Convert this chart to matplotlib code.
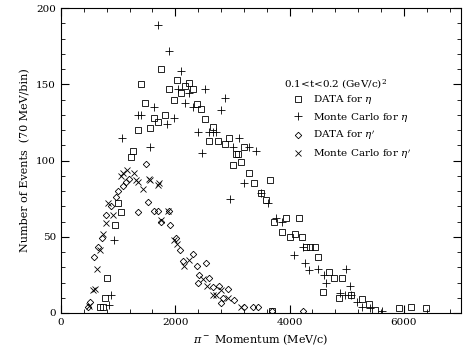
import numpy as np
import matplotlib.pyplot as plt
from matplotlib.ticker import MultipleLocator

plt.rcParams['font.family'] = 'DejaVu Serif'
plt.rcParams['mathtext.fontset'] = 'dejavuserif'

# DATA for eta (MeV/c, events per bin)
eta_data_x = [684, 737, 772, 807, 947, 1000, 1053, 1228, 1263, 1351, 1404, 1474, 1561,
              1631, 1701, 1754, 1824, 1895, 1982, 2035, 2105, 2175, 2245, 2316, 2386,
              2456, 2526, 2596, 2667, 2754, 2877, 2947, 3017, 3070, 3105, 3158, 3210,
              3298, 3386, 3508, 3579, 3666, 3700, 3736, 3859, 3929, 4000, 4087, 4157,
              4210, 4280, 4350, 4438, 4490, 4578, 4684, 4771, 4860, 4912, 5070, 5263,
              5385, 5490, 5911, 6121, 6385]
eta_data_y = [4, 4, 10, 23, 58, 72, 66, 102, 106, 120, 150, 138, 121,
              128, 125, 160, 130, 147, 140, 153, 144, 149, 151, 147, 137,
              134, 127, 113, 122, 113, 111, 115, 97, 104, 104, 99, 109,
              92, 85, 79, 74, 87, 1.3, 60, 53, 62, 50, 52, 62,
              50, 43, 43, 43, 37, 14, 27, 23, 10, 23, 12, 9,
              6, 2, 3, 4, 3]

# Monte Carlo for eta
eta_mc_x = [842, 877, 930, 1070, 1351, 1403, 1561, 1631, 1701, 1859, 1895, 1982, 2052,
            2105, 2175, 2245, 2316, 2403, 2473, 2526, 2596, 2667, 2719, 2807, 2877,
            2964, 3017, 3122, 3210, 3298, 3421, 3508, 3631, 3771, 3859, 4070, 4228,
            4263, 4333, 4491, 4596, 4631, 4877, 4965, 4982, 5052, 5070, 5175, 5263,
            5403, 5614]
eta_mc_y = [5, 12, 48, 115, 130, 130, 109, 135, 189, 124, 172, 128, 147,
            159, 138, 144, 135, 119, 105, 147, 119, 119, 119, 133, 141,
            75, 109, 115, 85, 109, 106, 79, 72, 62, 60, 38, 43,
            33, 28, 29, 25, 20, 13, 12, 29, 18, 12, 7, 4,
            3, 1.5]

# DATA for eta'
etap_data_x = [474, 509, 579, 649, 719, 789, 877, 965, 1000, 1088, 1140, 1193, 1351,
               1491, 1526, 1631, 1701, 1754, 1894, 1912, 2017, 2087, 2140, 2315,
               2385, 2403, 2421, 2543, 2596, 2666, 2771, 2807, 2842, 2929, 3035,
               3210, 3368, 3456, 3684, 4228]
etap_data_y = [4, 7, 37, 43, 49, 64, 70, 76, 80, 83, 86, 88, 66,
               98, 73, 67, 67, 60, 67, 58, 49, 41, 34, 39,
               31, 20, 25, 33, 23, 17, 18, 6.5, 10, 16, 8.5,
               4, 4, 4, 1.3, 1.3]

# Monte Carlo for eta'
etap_mc_x = [491, 561, 596, 631, 684, 735, 789, 824, 912, 1052, 1088, 1158, 1280,
             1316, 1351, 1438, 1543, 1561, 1701, 1719, 1754, 1877, 1982, 2035,
             2157, 2245, 2490, 2560, 2666, 2720, 2807, 2929, 3158]
etap_mc_y = [4.6, 15, 16, 29, 41, 52, 59, 72, 64, 90, 92, 94, 92,
             87, 86, 81, 88, 87, 84, 85, 61, 67, 48, 45,
             31, 35, 22, 18, 12, 12, 15, 10, 4]

fig = plt.figure(figsize=(4.64, 3.55), dpi=100)
ax = fig.add_axes([61 / 464, 1 - 313 / 355, 400 / 464, 305 / 355])

ax.plot(eta_data_x, eta_data_y, 's', mfc='none', mec='k', ms=4.5, mew=0.6,
        label=r'DATA for $\eta$')
ax.plot(eta_mc_x, eta_mc_y, '+', color='k', ms=6, mew=0.6,
        label=r'Monte Carlo for $\eta$')
ax.plot(etap_data_x, etap_data_y, 'D', mfc='none', mec='k', ms=3.3, mew=0.6,
        label=r"DATA for $\eta'$")
ax.plot(etap_mc_x, etap_mc_y, 'x', color='k', ms=5, mew=0.6,
        label=r"Monte Carlo for $\eta'$")

ax.set_xlim(0, 7000)
ax.set_ylim(0, 200)
ax.xaxis.set_major_locator(MultipleLocator(2000))
ax.xaxis.set_minor_locator(MultipleLocator(400))
ax.yaxis.set_major_locator(MultipleLocator(50))
ax.yaxis.set_minor_locator(MultipleLocator(10))
ax.tick_params(which='both', direction='in', top=True, right=True, labelsize=7.5)
ax.tick_params(which='major', length=6, width=0.8)
ax.tick_params(which='minor', length=3, width=0.6)

ax.set_xlabel(r'$\pi^-$ Momentum (MeV/c)', fontsize=8)
ax.set_ylabel('Number of Events  (70 MeV/bin)', fontsize=8)

ax.text(0.557, 0.751, r'0.1<t<0.2 (GeV/c)$^2$', transform=ax.transAxes,
        fontsize=7.5, va='center', ha='left')
ax.legend(loc='upper left', bbox_to_anchor=(0.58, 0.72), frameon=False,
          fontsize=7.5, handlelength=1.0, handletextpad=0.9, labelspacing=0.45,
          borderpad=0, borderaxespad=0)

fig.savefig('out.png', dpi=100)
